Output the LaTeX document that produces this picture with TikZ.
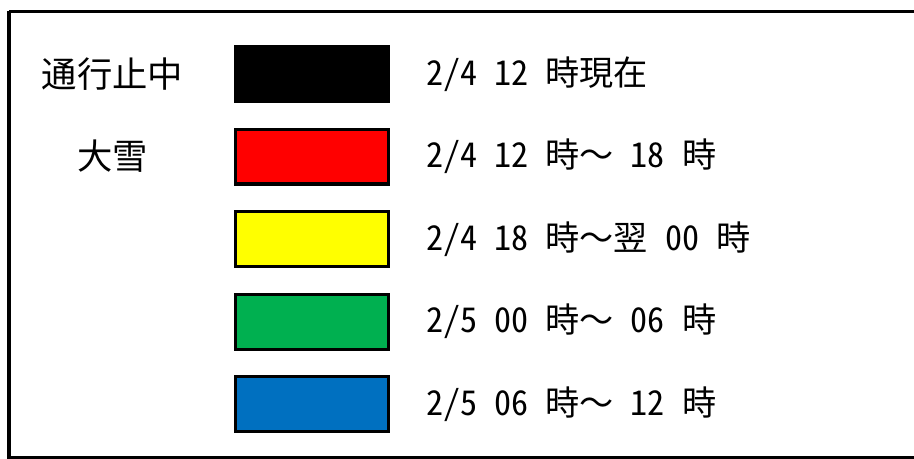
\documentclass[tikz,border=0pt]{standalone}
\usepackage{fontspec}
\setmainfont{Noto Sans CJK JP}[RawFeature=+hwid]
\newfontfamily\fullwidth{Noto Sans CJK JP}
\newcommand\wave{{\fullwidth ～}}
\usetikzlibrary{positioning}
\definecolor{leg red}{HTML}{FF0000}
\definecolor{leg yellow}{HTML}{FFFF00}
\definecolor{leg green}{HTML}{00B050}
\definecolor{leg blue}{HTML}{0070C0}

\begin{document}
\begin{tikzpicture}[
	x=0.75pt,y=-0.75pt,
	swatch/.style={ % 色見本の箱
		draw=black, line width=2.3pt,
		minimum width=114.7pt, minimum height=41.2pt,
		inner sep=0pt, outer sep=0pt
	},
	legtext/.style={inner sep=0pt, font=\fontsize{25.6}{30}\selectfont},
	node distance=20.7pt
]
	\useasboundingbox (0,0) rectangle (914,459);
	% 外枠
	\draw[line width=2.4pt] (9,11.5) -- (9,457.5) -- (930,457.5) (9,11.5) -- (930,11.5);

	%% 色見本
	\node[swatch, fill=black] (sw1) at (312,74) {};
	\node[swatch, fill=leg red, below=of sw1] (sw2) {};
	\node[swatch, fill=leg yellow, below=of sw2] (sw3) {};
	\node[swatch, fill=leg green, below=of sw3] (sw4) {};
	\node[swatch, fill=leg blue, below=of sw4] (sw5) {};

	%% 左の見出し
	\node[legtext, font=\fontsize{26.5}{30}\selectfont] (closed) at (112.5,74) {通行止中};
	\node[legtext, font=\fontsize{26.5}{30}\selectfont] (snow) at (closed |- sw2) {大雪};

	%% 時間帯
	\node[legtext, right=28pt of sw1, anchor=west] (t1) {2/4 12 時現在};
	\node[legtext, right=28pt of sw2, anchor=west] (t2) {2/4 12 時\wave{} 18 時};
	\node[legtext, right=28pt of sw3, anchor=west] (t3) {2/4 18 時\wave{}翌 00 時};
	\node[legtext, right=28pt of sw4, anchor=west] (t4) {2/5 00 時\wave{} 06 時};
	\node[legtext, right=28pt of sw5, anchor=west] (t5) {2/5 06 時\wave{} 12 時};
\end{tikzpicture}
\end{document}
